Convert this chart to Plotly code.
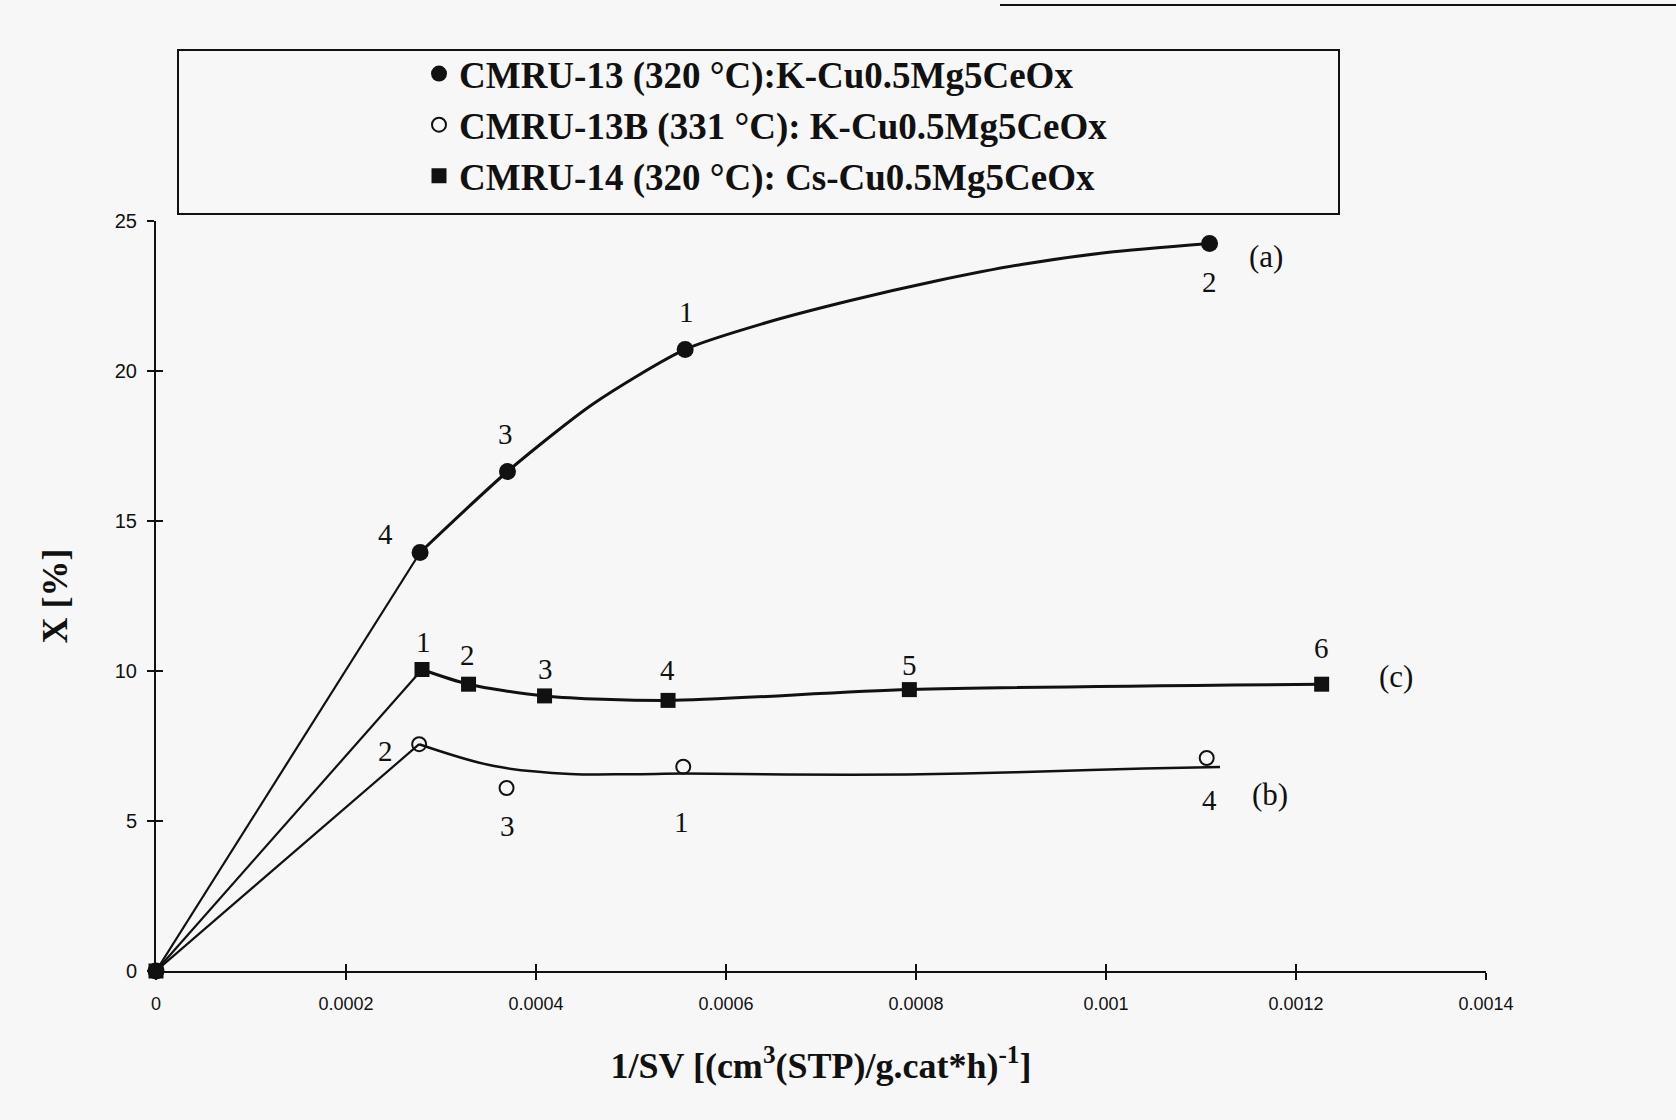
import plotly.graph_objects as go

# Conversion X [%] versus reciprocal space velocity for three catalyst runs
legend_names = [
    "CMRU-13 (320 °C):K-Cu0.5Mg5CeOx",
    "CMRU-13B (331 °C): K-Cu0.5Mg5CeOx",
    "CMRU-14 (320 °C): Cs-Cu0.5Mg5CeOx",
]

# (a) CMRU-13, filled circles
a_x = [0.0, 0.000278, 0.000370, 0.000557, 0.001109]
a_y = [0.0, 13.95, 16.65, 20.72, 24.25]
a_run = ["4", "3", "1", "2"]
# smoothed trend through (a)
a_fit_x = [0.000278, 0.000370, 0.000460, 0.000557, 0.000641, 0.000731,
           0.000821, 0.000911, 0.001001, 0.001109]
a_fit_y = [13.95, 16.65, 18.90, 20.72, 21.60, 22.35, 23.00, 23.55, 23.95, 24.25]

# (b) CMRU-13B, open circles
b_x = [0.0, 0.000277, 0.000369, 0.000555, 0.001106]
b_y = [0.0, 7.56, 6.10, 6.81, 7.10]
b_run = ["2", "3", "1", "4"]
# smoothed trend through (b)
b_fit_x = [0.000277, 0.000356, 0.000436, 0.000500, 0.000555, 0.000640,
           0.000730, 0.000850, 0.000941, 0.001040, 0.001120]
b_fit_y = [7.56, 6.83, 6.57, 6.56, 6.58, 6.56, 6.54, 6.58, 6.66, 6.75, 6.80]

# (c) CMRU-14, filled squares
c_x = [0.0, 0.000280, 0.000329, 0.000409, 0.000539, 0.000793, 0.001227]
c_y = [0.0, 10.05, 9.56, 9.17, 9.02, 9.38, 9.56]
c_run = ["1", "2", "3", "4", "5", "6"]

x_tickvals = [0, 0.0002, 0.0004, 0.0006, 0.0008, 0.001, 0.0012, 0.0014]
x_ticktext = ["0", "0.0002", "0.0004", "0.0006", "0.0008", "0.001", "0.0012", "0.0014"]
y_tickvals = [0, 5, 10, 15, 20, 25]

BG = "#f7f7f7"
INK = "#111111"
SERIF = "Liberation Serif, Times New Roman, serif"
SANS = "Liberation Sans, Arial, sans-serif"
NARROW = "Liberation Sans Narrow, Arial Narrow, Liberation Sans, Arial, sans-serif"

fig = go.Figure()

# straight lines from the origin to the first measured point
for xs, ys in ((a_x, a_y), (b_x, b_y), (c_x, c_y)):
    fig.add_trace(go.Scatter(x=xs[:2], y=ys[:2], mode="lines",
                             line=dict(color=INK, width=2.2),
                             showlegend=False, hoverinfo="skip", cliponaxis=False))

# smoothed curves
fig.add_trace(go.Scatter(x=a_fit_x, y=a_fit_y, mode="lines",
                         line=dict(color=INK, width=3, shape="spline", smoothing=0.7),
                         showlegend=False, hoverinfo="skip"))
fig.add_trace(go.Scatter(x=b_fit_x, y=b_fit_y, mode="lines",
                         line=dict(color=INK, width=2.5, shape="spline", smoothing=1.0),
                         showlegend=False, hoverinfo="skip"))
fig.add_trace(go.Scatter(x=c_x[1:], y=c_y[1:], mode="lines",
                         line=dict(color=INK, width=3, shape="spline", smoothing=0.8),
                         showlegend=False, hoverinfo="skip"))

# markers
fig.add_trace(go.Scatter(x=a_x, y=a_y, mode="markers", name=legend_names[0],
                         marker=dict(symbol="circle", size=17, color=INK),
                         cliponaxis=False))
fig.add_trace(go.Scatter(x=b_x[1:], y=b_y[1:], mode="markers", name=legend_names[1],
                         marker=dict(symbol="circle-open", size=14, color=INK,
                                     line=dict(width=2, color=INK)),
                         cliponaxis=False))
fig.add_trace(go.Scatter(x=c_x, y=c_y, mode="markers", name=legend_names[2],
                         marker=dict(symbol="square", size=15, color=INK),
                         cliponaxis=False))

# helper trace for the overlay axes (inner half of the tick marks)
fig.add_trace(go.Scatter(x=[0], y=[0], xaxis="x2", yaxis="y2", mode="markers",
                         marker=dict(opacity=0), showlegend=False, hoverinfo="skip"))

annotations = []
num_font = dict(family=SERIF, size=29, color=INK)

a_offsets = [(-35, 19), (-2, 38), (1, 37), (0, -38)]
b_offsets = [(-34, -7), (1, -38), (-2, -55), (3, -42)]
c_offsets = [(1, 28), (-1, 29), (1, 27), (-1, 30), (0, 25), (0, 36)]

for xs, ys, runs, offs in ((a_x, a_y, a_run, a_offsets),
                           (b_x, b_y, b_run, b_offsets),
                           (c_x, c_y, c_run, c_offsets)):
    for i, (lab, (dx, dy)) in enumerate(zip(runs, offs)):
        annotations.append(dict(x=xs[i + 1], y=ys[i + 1], xref="x", yref="y",
                                text=lab, showarrow=False, font=num_font,
                                xshift=dx, yshift=dy))

series_font = dict(family=SERIF, size=31, color=INK)
for xs, ys, lab, dx, dy in ((a_x, a_y, "(a)", 56, -13),
                            (b_x, b_y, "(b)", 63, -36),
                            (c_x, c_y, "(c)", 74, 8)):
    annotations.append(dict(x=xs[-1], y=ys[-1], xref="x", yref="y", text=lab,
                            showarrow=False, font=series_font, xshift=dx, yshift=dy))

shapes = [
    # legend frame
    dict(type="rect", xref="paper", yref="paper",
         x0=(178 - 156) / 1330, x1=(1339 - 156) / 1330,
         y0=(971 - 214) / 750, y1=(971 - 50) / 750,
         line=dict(color=INK, width=2), fillcolor="rgba(0,0,0,0)", layer="below"),
    # rule along the top of the page
    dict(type="line", xref="paper", yref="paper",
         x0=(1000 - 156) / 1330, x1=(1676 - 156) / 1330,
         y0=(971 - 5) / 750, y1=(971 - 5) / 750,
         line=dict(color=INK, width=2)),
]

axis_common = dict(showgrid=False, zeroline=False, ticks="outside", ticklen=7,
                   tickwidth=1.5, tickcolor=INK, linecolor=INK, linewidth=2,
                   showline=True, mirror=False)

fig.update_layout(
    width=1676, height=1120,
    margin=dict(l=156, r=190, t=221, b=149),
    paper_bgcolor=BG, plot_bgcolor=BG,
    showlegend=True,
    legend=dict(
        x=(419 - 156) / 1330, y=(971 - 43) / 750, xanchor="left", yanchor="top",
        bgcolor="rgba(0,0,0,0)", borderwidth=0,
        font=dict(family=SERIF, size=37, color=INK, weight="bold"),
        itemsizing="trace", tracegroupgap=0,
    ),
    xaxis=dict(range=[0, 0.0014], tickvals=x_tickvals, ticktext=x_ticktext,
               tickfont=dict(family=NARROW, size=18, color=INK),
               ticklabelstandoff=8,
               title=dict(text="1/SV [(cm<sup>3</sup>(STP)/g.cat*h)<sup>-1</sup>]",
                          font=dict(family=SERIF, size=36, color=INK, weight="bold"),
                          standoff=40),
               automargin=False, **axis_common),
    yaxis=dict(range=[0, 25], tickvals=y_tickvals,
               tickfont=dict(family=SANS, size=20, color=INK),
               ticklabelstandoff=6,
               title=dict(text="X [%]",
                          font=dict(family=SERIF, size=36, color=INK, weight="bold"),
                          standoff=36),
               automargin=False, **axis_common),
    xaxis2=dict(overlaying="x", anchor="y2", range=[0, 0.0014], tickvals=x_tickvals,
                showticklabels=False, showgrid=False, zeroline=False, showline=False,
                ticks="inside", ticklen=7, tickwidth=1.5, tickcolor=INK),
    yaxis2=dict(overlaying="y", anchor="x2", range=[0, 25], tickvals=y_tickvals,
                showticklabels=False, showgrid=False, zeroline=False, showline=False,
                ticks="inside", ticklen=7, tickwidth=1.5, tickcolor=INK),
    annotations=annotations,
    shapes=shapes,
)

fig.write_html("out.html")
